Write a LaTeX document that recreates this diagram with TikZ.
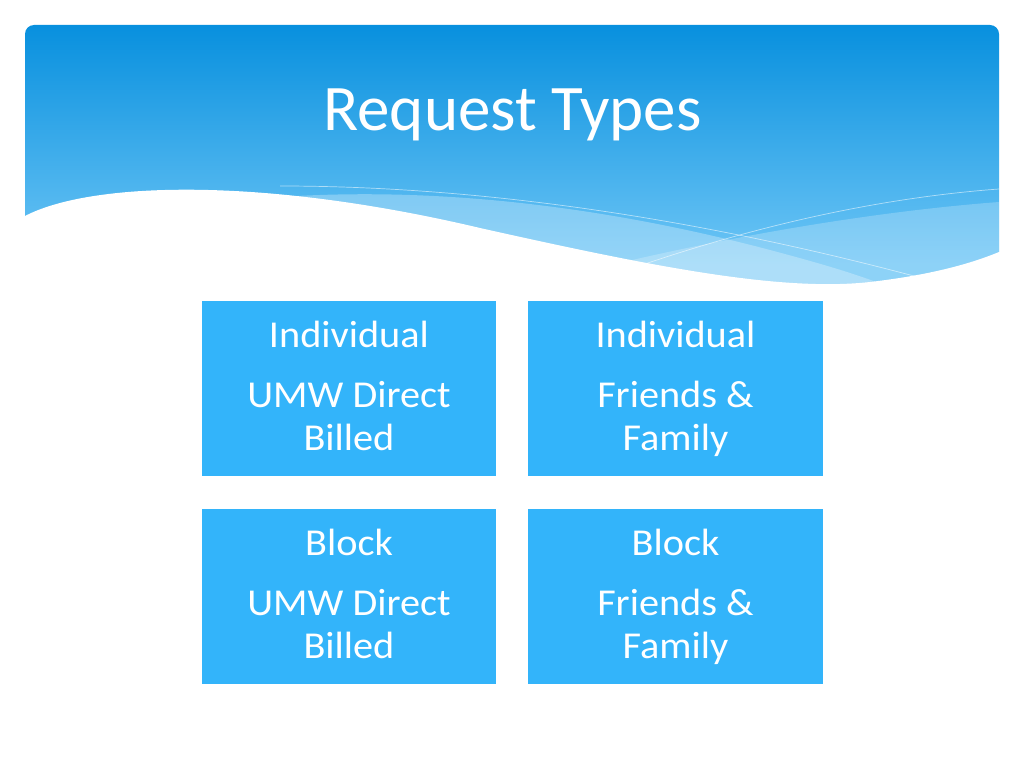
\documentclass[tikz,border=0pt]{standalone}
\usepackage{fontspec}
\setmainfont{Carlito}
\newfontfamily\boxfont[FakeStretch=1.06]{Carlito}
\definecolor{bannertop}{RGB}{8,144,222}
\definecolor{bannerbot}{RGB}{110,198,246}
\definecolor{boxblue}{RGB}{51,180,250}
\tikzset{
  boxst/.style={fill=boxblue, draw=none, minimum width=294pt, minimum height=175pt, inner sep=0pt},
  lbl/.style={text=white, font=\boxfont\fontsize{38}{43}\selectfont, inner sep=0pt, anchor=base},
  thinline/.style={draw=white, opacity=0.55, line width=0.7pt},
}
\begin{document}
\begin{tikzpicture}[x=1pt,y=-1pt]
\useasboundingbox (0,0) rectangle (1024,768);
\fill[white] (0,0) rectangle (1024,768);
% banner
\begin{scope}
\clip[rounded corners=9pt] (25,25) rectangle (999,290);
\shade[top color=bannertop, bottom color=bannerbot] (25,25) rectangle (999,265);
\fill[bannerbot] (25,264) rectangle (999,300);
% light band descending
\fill[white, opacity=0.28] (200,205) .. controls (400,178) and (600,205) .. (770,250)
  .. controls (830,266) and (870,278) .. (900,292) -- (200,300) -- cycle;
% light band rising
\fill[white, opacity=0.22] (480,300) .. controls (640,252) and (840,214) .. (999,202) -- (999,300) -- cycle;
% thin lines
\draw[thinline] (280,186) .. controls (520,186) and (760,232) .. (965,290);
\draw[thinline] (560,295) .. controls (700,240) and (850,200) .. (999,189);
\end{scope}
% white wave
\fill[white] (15,216) -- (25,216) .. controls (90,182) and (260,176) .. (480,228)
  .. controls (650,266) and (780,292) .. (870,282)
  .. controls (930,275) and (970,264) .. (999,252) -- (1010,252) -- (1010,297) -- (15,297) -- cycle;
% title
\node[text=white, font=\fontsize{65}{78}\selectfont, inner sep=0pt, anchor=base] (title) at (512.5,130) {Request Types};
% boxes
\node[boxst] (b1) at (349,388.5) {};
\node[boxst, minimum width=295pt] (b2) at (675.5,388.5) {};
\node[boxst] (b3) at (349,596.5) {};
\node[boxst, minimum width=295pt] (b4) at (675.5,596.5) {};
% labels
\foreach \b/\t/\u/\v in {b1/Individual/UMW Direct/Billed, b2/Individual/Friends \&/Family, b3/Block/UMW Direct/Billed, b4/Block/Friends \&/Family}{
  \node[lbl] (\b-a) at ([yshift=-47pt]\b.north) {\t};
  \node[lbl] (\b-b) at ([yshift=-107pt]\b.north) {\u};
  \node[lbl] (\b-c) at ([yshift=-150pt]\b.north) {\v};
}
\end{tikzpicture}
\end{document}
